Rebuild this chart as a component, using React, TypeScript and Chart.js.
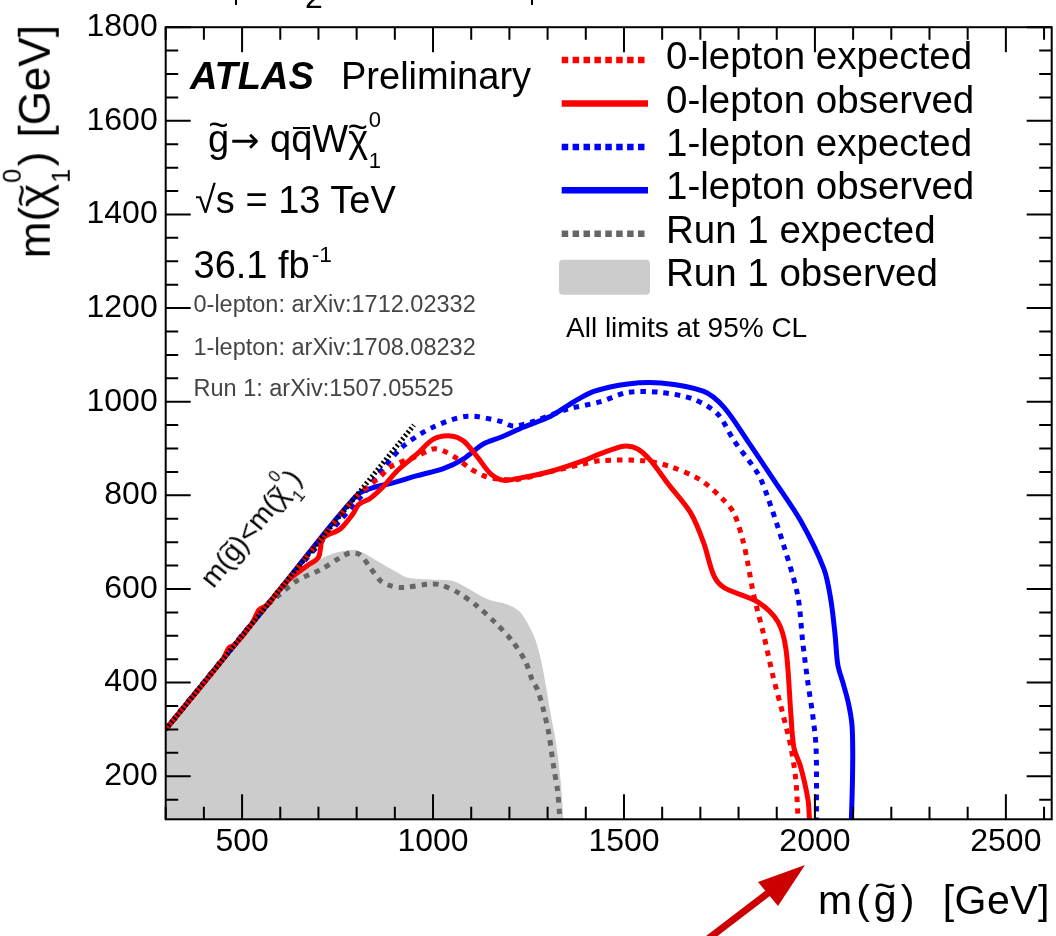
import React, { useEffect, useRef } from "react";
import { Chart, registerables } from "chart.js";

Chart.register(...registerables);

const FONT = '"Liberation Sans", Arial, Helvetica, sans-serif';

// ---------- axes ----------
const X_MIN = 300;
const X_MAX = 2620;
const Y_MIN = 108;
const Y_MAX = 1800;
const X_TICKS = [500, 1000, 1500, 2000, 2500];
const Y_TICKS = [200, 400, 600, 800, 1000, 1200, 1400, 1600, 1800];
const X_MINOR_STEP = 100;
const Y_MINOR_STEP = 50;
const X_MAJOR_STEP = 500;
const Y_MAJOR_STEP = 200;

// ---------- legend ----------
const LEGEND_LABELS = [
  "0-lepton expected",
  "0-lepton observed",
  "1-lepton expected",
  "1-lepton observed",
  "Run 1 expected",
  "Run 1 observed",
];

// ---------- series (m(gluino), m(neutralino)) in GeV ----------
const ZL_EXP_X = [300, 500, 700, 800, 862, 888, 959, 1001, 1027, 1064, 1098, 1132, 1160, 1221, 1308, 1394, 1439, 1552, 1623, 1702, 1762, 1788, 1811, 1824, 1840, 1866, 1889, 1916, 1937, 1950, 1955, 1957];
const ZL_EXP_Y = [300, 500, 700, 798, 840, 861, 884, 899, 895, 878, 857, 842, 836, 834, 851, 867, 874, 874, 861, 832, 789, 762, 705, 656, 586, 502, 418, 333, 262, 192, 123, 100];

const ZL_OBS_X = [300, 450, 465, 480, 525, 545, 565, 600, 626, 671, 700, 712, 757, 790, 805, 836, 870, 907, 959, 1001, 1046, 1080, 1116, 1151, 1185, 1221, 1308, 1394, 1439, 1499, 1536, 1570, 1615, 1675, 1709, 1735, 1762, 1851, 1903, 1924, 1937, 1945, 1963, 1982, 1986];
const ZL_OBS_Y = [300, 450, 474, 480, 525, 556, 565, 600, 622, 650, 668, 708, 728, 760, 780, 794, 819, 853, 889, 920, 927, 916, 882, 846, 832, 836, 851, 874, 889, 905, 899, 874, 825, 762, 698, 629, 603, 572, 530, 472, 333, 261, 219, 149, 100];

const OL_EXP_X = [300, 600, 818, 870, 922, 1001, 1090, 1177, 1211, 1263, 1352, 1439, 1510, 1596, 1683, 1746, 1788, 1851, 1876, 1919, 1955, 1968, 1981, 1994, 2003, 2004, 2004];
const OL_EXP_Y = [300, 600, 804, 858, 905, 946, 969, 958, 948, 958, 984, 1000, 1020, 1020, 1005, 973, 917, 846, 797, 691, 586, 487, 403, 332, 261, 122, 100];

const OL_OBS_X = [300, 600, 800, 854, 888, 959, 1027, 1080, 1132, 1177, 1238, 1308, 1369, 1421, 1510, 1597, 1709, 1762, 1824, 1893, 1963, 2024, 2042, 2053, 2060, 2075, 2088, 2097, 2099, 2098, 2096, 2095];
const OL_OBS_Y = [300, 600, 800, 819, 825, 842, 857, 878, 910, 924, 946, 969, 1000, 1022, 1038, 1040, 1022, 988, 916, 832, 745, 642, 575, 500, 438, 395, 355, 310, 250, 180, 122, 100];

const R1_EXP_X = [300, 560, 590, 644, 705, 757, 783, 809, 836, 862, 888, 922, 985, 1019, 1068, 1116, 1163, 1207, 1242, 1260, 1274, 1290, 1303, 1316, 1326, 1331, 1334];
const R1_EXP_Y = [300, 560, 582, 618, 641, 667, 677, 673, 645, 618, 607, 603, 610, 609, 591, 563, 528, 489, 445, 405, 384, 339, 292, 219, 170, 122, 100];

const R1_OBS_X = [300, 560, 600, 644, 723, 791, 818, 862, 907, 933, 993, 1046, 1072, 1143, 1195, 1229, 1263, 1282, 1295, 1308, 1321, 1334, 1342];
const R1_OBS_Y = [300, 560, 598, 629, 671, 684, 677, 656, 635, 624, 620, 618, 610, 578, 567, 550, 502, 451, 396, 333, 276, 192, 100];

// kinematic boundary m(gluino) = m(neutralino)
const DIAG_X = [300, 950];
const DIAG_Y = [300, 950];

const pts = (xs: number[], ys: number[]) => xs.map((x, i) => ({ x, y: ys[i] }));

// ---------- drawing helpers ----------
const ASC = 0.8465;

function Txt(props: any) {
  const { x, right, y, size, children, style } = props;
  const s: any = {
    position: "absolute",
    top: y - ASC * size,
    fontSize: size,
    lineHeight: size + "px",
    whiteSpace: "nowrap",
    fontFamily: FONT,
    color: "#000",
    ...style,
  };
  if (right !== undefined) s.right = 1056 - right;
  else s.left = x;
  return <div style={s}>{children}</div>;
}

function Tilde(props: any) {
  const { size, children, shift = 0.39, dx = 0.015, scale = 0.9 } = props;
  const t = size * scale;
  return (
    <span style={{ position: "relative", display: "inline-block" }}>
      {children}
      <span
        style={{
          position: "absolute",
          left: dx * size,
          top: ASC * (size - t) - shift * size,
          fontSize: t,
          lineHeight: t + "px",
          letterSpacing: 0,
        }}
      >
        ~
      </span>
    </span>
  );
}

function Bar(props: any) {
  const { size, children } = props;
  return (
    <span style={{ position: "relative", display: "inline-block" }}>
      {children}
      <span
        style={{
          position: "absolute",
          left: 0.06 * size,
          width: 0.44 * size,
          top: ASC * size - 0.66 * size,
          height: Math.max(2, 0.06 * size),
          background: "#000",
        }}
      />
    </span>
  );
}

function SubSup(props: any) {
  const { size, sub, sup, width = 0.4, raise = 0.64, drop = 0.46 } = props;
  const s = size * 0.58;
  const common: any = { position: "absolute", left: 0.02 * size, fontSize: s, lineHeight: s + "px" };
  return (
    <span style={{ position: "relative", display: "inline-block", width: width * size, height: 0 }}>
      <span style={{ ...common, top: -raise * size - ASC * s }}>{sup}</span>
      <span style={{ ...common, top: drop * size - ASC * s }}>{sub}</span>
    </span>
  );
}

const decorPlugin = {
  id: "decor",
  afterDatasetsDraw(chart: any) {
    const { ctx, chartArea: a } = chart;
    const xs = chart.scales.x;
    const ys = chart.scales.y;
    ctx.save();
    ctx.strokeStyle = "#000";
    ctx.lineWidth = 2;
    ctx.beginPath();
    const MAJ = 25;
    const MIN = 12.5;
    for (let v = Math.ceil(X_MIN / X_MINOR_STEP) * X_MINOR_STEP; v <= X_MAX; v += X_MINOR_STEP) {
      const p = xs.getPixelForValue(v);
      const len = v % X_MAJOR_STEP === 0 ? MAJ : MIN;
      ctx.moveTo(p, a.bottom);
      ctx.lineTo(p, a.bottom - len);
      ctx.moveTo(p, a.top);
      ctx.lineTo(p, a.top + len);
    }
    for (let v = Math.ceil(Y_MIN / Y_MINOR_STEP) * Y_MINOR_STEP; v <= Y_MAX; v += Y_MINOR_STEP) {
      const p = ys.getPixelForValue(v);
      const len = v % Y_MAJOR_STEP === 0 ? MAJ : MIN;
      ctx.moveTo(a.left, p);
      ctx.lineTo(a.left + len, p);
      ctx.moveTo(a.right, p);
      ctx.lineTo(a.right - len, p);
    }
    ctx.stroke();
    ctx.strokeRect(a.left, a.top, a.right - a.left, a.bottom - a.top);
    ctx.restore();
  },
  afterDraw(chart: any) {
    const { ctx } = chart;
    ctx.save();
    // legend symbols
    LEGEND_LABELS.forEach((lab, i) => {
      const ds = chart.data.datasets.find((d: any) => d.label === lab);
      if (!ds) return;
      const cy = 60 + 43.45 * i;
      if (ds.fill) {
        ctx.fillStyle = ds.backgroundColor;
        ctx.beginPath();
        if (ctx.roundRect) ctx.roundRect(559, cy - 17.5, 91, 35, 4);
        else ctx.rect(559, cy - 17.5, 91, 35);
        ctx.fill();
      } else {
        ctx.strokeStyle = ds.borderColor;
        ctx.lineWidth = 6.5;
        ctx.setLineDash(ds.borderDash && ds.borderDash.length ? [6.5, 4.4] : []);
        ctx.beginPath();
        ctx.moveTo(561.7, cy);
        ctx.lineTo(648, cy);
        ctx.stroke();
      }
    });
    ctx.setLineDash([]);
    // red annotation arrow
    ctx.strokeStyle = "#cc0000";
    ctx.fillStyle = "#cc0000";
    ctx.lineWidth = 7;
    ctx.beginPath();
    ctx.moveTo(700, 945);
    ctx.lineTo(772, 890);
    ctx.stroke();
    ctx.beginPath();
    ctx.moveTo(805, 865);
    ctx.lineTo(758, 882);
    ctx.lineTo(778, 906);
    ctx.closePath();
    ctx.fill();
    ctx.restore();
  },
};

export default function App() {
  const ref = useRef<HTMLCanvasElement>(null);

  useEffect(() => {
    const line = {
      pointRadius: 0,
      pointHoverRadius: 0,
      fill: false,
      tension: 0.3,
      borderCapStyle: "butt",
      borderJoinStyle: "round",
      borderWidth: 5,
    };
    const dotted = [5.5, 6];
    const chart = new Chart(ref.current as HTMLCanvasElement, {
      type: "line",
      data: {
        datasets: [
          { ...line, label: "boundary", data: pts(DIAG_X, DIAG_Y), borderColor: "#000000", borderWidth: 5, borderDash: [2, 2.4], tension: 0, order: 0 },
          { ...line, label: "0-lepton observed", data: pts(ZL_OBS_X, ZL_OBS_Y), borderColor: "#ff0000", order: 1 },
          { ...line, label: "0-lepton expected", data: pts(ZL_EXP_X, ZL_EXP_Y), borderColor: "#ff0000", borderDash: dotted, order: 2 },
          { ...line, label: "1-lepton observed", data: pts(OL_OBS_X, OL_OBS_Y), borderColor: "#0000ff", order: 3 },
          { ...line, label: "1-lepton expected", data: pts(OL_EXP_X, OL_EXP_Y), borderColor: "#0000ff", borderDash: dotted, order: 4 },
          { ...line, label: "Run 1 expected", data: pts(R1_EXP_X, R1_EXP_Y), borderColor: "#666666", borderDash: dotted, order: 5 },
          { ...line, label: "Run 1 observed", data: pts(R1_OBS_X, R1_OBS_Y), borderColor: "rgba(0,0,0,0)", backgroundColor: "#cccccc", borderWidth: 0, fill: "start", order: 6 },
        ],
      },
      options: {
        responsive: false,
        maintainAspectRatio: false,
        devicePixelRatio: 1,
        animation: false,
        events: [],
        layout: { padding: { top: 18.5, right: 4.3, left: 0, bottom: 0 } },
        plugins: { legend: { display: false }, tooltip: { enabled: false }, title: { display: false } },
        scales: {
          x: {
            type: "linear",
            min: X_MIN,
            max: X_MAX,
            grid: { display: false, drawTicks: false, tickLength: 0 },
            border: { display: false },
            ticks: {
              color: "#000",
              font: { family: FONT, size: 32 },
              padding: 4,
              maxRotation: 0,
              autoSkip: false,
              callback: (v: any) => String(v),
            },
            afterBuildTicks: (s: any) => {
              s.ticks = X_TICKS.map((v) => ({ value: v }));
            },
            afterFit: (s: any) => {
              s.height = 116.7;
            },
          },
          y: {
            type: "linear",
            min: Y_MIN,
            max: Y_MAX,
            grid: { display: false, drawTicks: false, tickLength: 0 },
            border: { display: false },
            ticks: {
              color: "#000",
              font: { family: FONT, size: 32 },
              padding: 8,
              autoSkip: false,
              callback: (v: any) => String(v),
            },
            afterBuildTicks: (s: any) => {
              s.ticks = Y_TICKS.map((v) => ({ value: v }));
            },
            afterFit: (s: any) => {
              s.width = 165.7;
            },
          },
        },
      },
      plugins: [decorPlugin],
    } as any);
    return () => chart.destroy();
  }, []);

  const F = 38;
  const Fy = 44;
  const Fd = 28;
  const Fx = 41;

  return (
    <div style={{ position: "absolute", left: 0, top: 0, width: 1056, height: 936, background: "#fff", overflow: "hidden", fontFamily: FONT }}>
      <canvas ref={ref} width={1056} height={936} style={{ position: "absolute", left: 0, top: 0, width: 1056, height: 936 }} />

      {/* fragments of the cut-off content above */}
      <Txt x={305} y={8} size={32}>2</Txt>
      <div style={{ position: "absolute", left: 235, top: 0, width: 2, height: 5, background: "#000" }} />
      <div style={{ position: "absolute", left: 531, top: 0, width: 2, height: 5, background: "#000" }} />

      {/* top-left annotations */}
      <Txt x={190} y={89.3} size={F} style={{ fontWeight: "bold", fontStyle: "italic" }}>ATLAS</Txt>
      <Txt x={341} y={89.3} size={F}>Preliminary</Txt>
      <Txt x={208} y={151.7} size={F}>
        <Tilde size={F}>g</Tilde>
        <span style={{ fontFamily: '"DejaVu Sans", sans-serif', fontSize: 0.92 * F, marginLeft: 1 }}>→</span> q<Bar size={F}>q</Bar>W<Tilde size={F} shift={0.33} dx={-0.01}>χ</Tilde>
        <SubSup size={F} sub="1" sup="0" />
      </Txt>
      <Txt x={195} y={213.3} size={F}>√s = 13 TeV</Txt>
      <Txt x={193.5} y={278.3} size={F}>
        36.1 fb<span style={{ position: "relative", top: -0.42 * F, fontSize: 0.6 * F, marginLeft: 2 }}>-1</span>
      </Txt>
      <Txt x={193.5} y={313.3} size={23.5} style={{ color: "#444" }}>0-lepton: arXiv:1712.02332</Txt>
      <Txt x={193.5} y={356} size={23.5} style={{ color: "#444" }}>1-lepton: arXiv:1708.08232</Txt>
      <Txt x={193.5} y={396.7} size={23.5} style={{ color: "#444" }}>Run 1: arXiv:1507.05525</Txt>

      {/* legend text */}
      {LEGEND_LABELS.map((lab, i) => (
        <Txt key={lab} x={666} y={70 + 43.35 * i} size={38.5}>{lab}</Txt>
      ))}
      <Txt x={566} y={338} size={28}>All limits at 95% CL</Txt>

      {/* kinematic boundary label */}
      <div
        style={{
          position: "absolute",
          left: 214,
          top: 590 - ASC * Fd,
          fontSize: Fd,
          lineHeight: Fd + "px",
          whiteSpace: "nowrap",
          transformOrigin: `0px ${ASC * Fd}px`,
          transform: "rotate(-51deg)",
          color: "#000",
        }}
      >
        m(<Tilde size={Fd}>g</Tilde>)&lt;m(<Tilde size={Fd} shift={0.33} dx={-0.01}>χ</Tilde>
        <SubSup size={Fd} sub="1" sup="0" />)
      </div>

      {/* x axis title */}
      <Txt x={818} y={915} size={Fx} style={{ letterSpacing: 4 }}>
        m(<Tilde size={Fx}>g</Tilde>)
      </Txt>
      <Txt right={1050} y={915} size={Fx} style={{ letterSpacing: 0.5 }}>[GeV]</Txt>

      {/* y axis title */}
      <div
        style={{
          position: "absolute",
          left: 50,
          top: 258 - ASC * Fy,
          fontSize: Fy,
          lineHeight: Fy + "px",
          whiteSpace: "nowrap",
          transformOrigin: `0px ${ASC * Fy}px`,
          transform: "rotate(-90deg)",
          color: "#000",
        }}
      >
        m(<Tilde size={Fy} shift={0.33} dx={-0.01}>χ</Tilde>
        <SubSup size={Fy} sub="1" sup="0" />)
        <span style={{ marginLeft: 14 }}>[GeV]</span>
      </div>
    </div>
  );
}
